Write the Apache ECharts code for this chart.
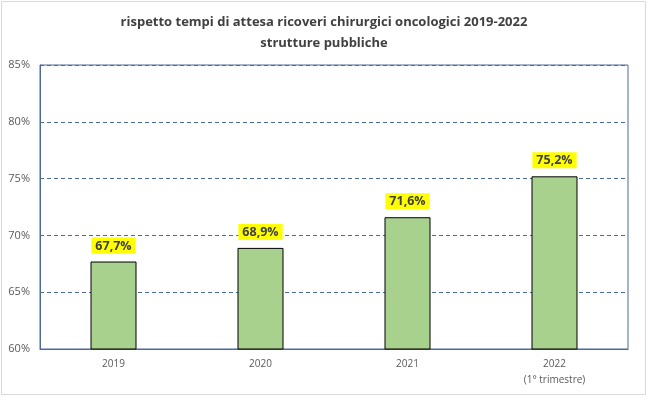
<!DOCTYPE html>
<html>
<head>
<meta charset="utf-8">
<script src="https://cdn.jsdelivr.net/npm/echarts@6/dist/echarts.min.js"></script>
<style>
  html, body { margin: 0; padding: 0; background: #fff; }
  #chart { width: 648px; height: 398px; }
</style>
</head>
<body>
<div id="chart"></div>
<script>
var years = ['2019', '2020', '2021', '2022\n(1° trimestre)'];
var values = [67.7, 68.9, 71.6, 75.2];
var yTicks = [60, 65, 70, 75, 80, 85];

var blueLine = '#4a6a9a';
var grey = '#595959';

var chart = echarts.init(document.getElementById('chart'));
chart.setOption({
    animation: false,
    title: {
        text: 'rispetto tempi di attesa ricoveri chirurgici oncologici 2019-2022\nstrutture pubbliche',
        left: 'center',
        top: 7,
        textStyle: {
            fontFamily: 'Open Sans',
            fontWeight: 'bold',
            fontSize: 13,
            lineHeight: 21,
            color: '#404040'
        }
    },
    graphic: [{
        type: 'rect',
        shape: { x: 1.5, y: 1.5, width: 644, height: 393 },
        style: { fill: 'none', stroke: '#d9d9d9', lineWidth: 1 },
        silent: true
    }],
    grid: {
        left: 40,
        right: 20,
        top: 65,
        bottom: 49,
        show: true,
        borderColor: blueLine,
        borderWidth: 1
    },
    xAxis: {
        type: 'category',
        data: years,
        axisTick: { show: false },
        axisLine: { lineStyle: { color: blueLine } },
        axisLabel: {
            color: grey,
            fontFamily: 'Open Sans',
            fontSize: 10,
            margin: 7,
            lineHeight: 16
        }
    },
    yAxis: {
        type: 'value',
        min: yTicks[0],
        max: yTicks[yTicks.length - 1],
        interval: 5,
        axisLine: { show: true, lineStyle: { color: blueLine } },
        axisTick: { show: false },
        axisLabel: {
            color: grey,
            fontFamily: 'Open Sans',
            fontSize: 11,
            margin: 10,
            formatter: '{value}%'
        },
        splitLine: {
            lineStyle: { color: blueLine, type: [4, 3], width: 1 }
        }
    },
    series: [{
        type: 'bar',
        data: values,
        barWidth: 46,
        itemStyle: {
            color: '#a9d18e',
            borderColor: '#000',
            borderWidth: 1
        },
        label: {
            show: true,
            position: 'top',
            distance: 8,
            backgroundColor: '#ffff00',
            padding: [2, 4, 1, 4],
            color: '#404040',
            fontFamily: 'Open Sans',
            fontWeight: 'bold',
            fontSize: 12.5,
            formatter: function(p) {
                return p.value.toFixed(1).replace('.', ',') + '%';
            }
        }
    }]
});
</script>
</body>
</html>
